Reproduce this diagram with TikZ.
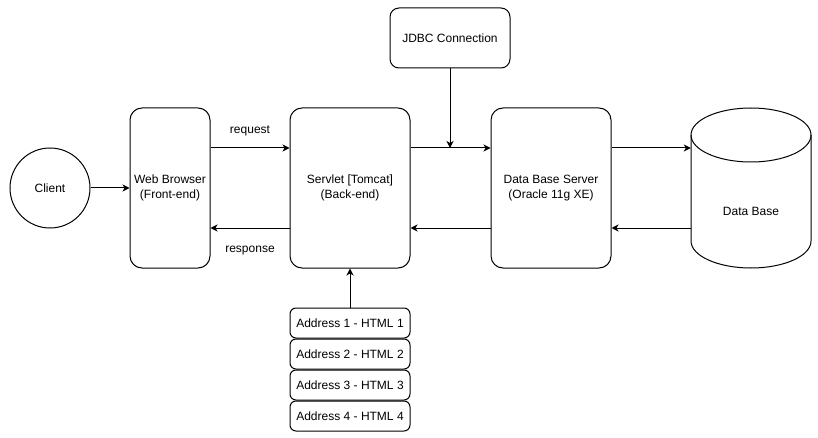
\documentclass[tikz,border=0pt]{standalone}
\usepackage{fontspec}
\setmainfont{Liberation Sans}
\usetikzlibrary{arrows.meta}
\usetikzlibrary{positioning}
\tikzset{
    every node/.style={font=\fontsize{12}{14.4}\selectfont},
    block/.style={
        draw,
        rounded corners=12pt,
        minimum width=120pt,
        minimum height=160pt,
        inner sep=0pt,
        align=center,
        line width=1pt
    },
    client/.style={
        draw,
        circle,
        minimum size=80pt,
        inner sep=0pt,
        line width=1pt
    },
    addr/.style={
        draw,
        rounded corners=6pt,
        minimum width=120pt,
        minimum height=30pt,
        inner sep=0pt,
        line width=1pt
    },
    arr/.style={
        -{Stealth[length=7pt, width=7pt, inset=2pt]},
        line width=1pt
    }
}

\begin{document}
\begin{tikzpicture}[x=1pt, y=-1pt]
    \useasboundingbox (0,0) rectangle (818,438);

    % Nodes
    \node[client] (client) at (50,188) {Client};
    \node[block, minimum width=80pt] (web) at (170,188) {Web Browser\\(Front-end)};
    \node[block] (srv) at (350,188) {Servlet [Tomcat]\\(Back-end)};
    \node[block] (dbs) at (551,188) {Data Base Server\\(Oracle 11g XE)};
    \node[block, minimum height=60pt, rounded corners=9pt] (jdbc) at (450,38) {JDBC Connection};

    % Data base cylinder
    \draw[line width=1pt] (691,135) -- (691,241) arc[start angle=180, end angle=0, x radius=60, y radius=27] -- (811,135);
    \draw[line width=1pt] (751,135) ellipse[x radius=60, y radius=27];
    \node[minimum width=120pt, inner sep=0pt] (db) at (751,211) {Data Base};

    % Address list
    \node[addr] (a1) at (350,323) {Address 1 - HTML 1};
    \node[addr, below=0pt of a1] (a2) {Address 2 - HTML 2};
    \node[addr, below=0pt of a2] (a3) {Address 3 - HTML 3};
    \node[addr, below=0pt of a3] (a4) {Address 4 - HTML 4};

    % Connectors
    \draw[arr] (client) -- (web);
    \draw[arr] ([yshift=40pt]web.east) -- node[yshift=17pt] {request} ([yshift=40pt]srv.west);
    \draw[arr] ([yshift=-40pt]srv.west) -- node[yshift=-23pt] {response} ([yshift=-40pt]web.east);
    \draw[arr] ([yshift=40pt]srv.east) -- ([yshift=40pt]dbs.west);
    \draw[arr] ([yshift=-40pt]dbs.west) -- ([yshift=-40pt]srv.east);
    \draw[arr] ([yshift=40pt]dbs.east) -- ([yshift=40pt]dbs.east -| db.west);
    \draw[arr] ([yshift=-40pt]dbs.east -| db.west) -- ([yshift=-40pt]dbs.east);
    \draw[arr] (jdbc) -- ([yshift=40pt]srv.east -| jdbc.south);
    \draw[arr] (a1) -- (srv);
\end{tikzpicture}
\end{document}
